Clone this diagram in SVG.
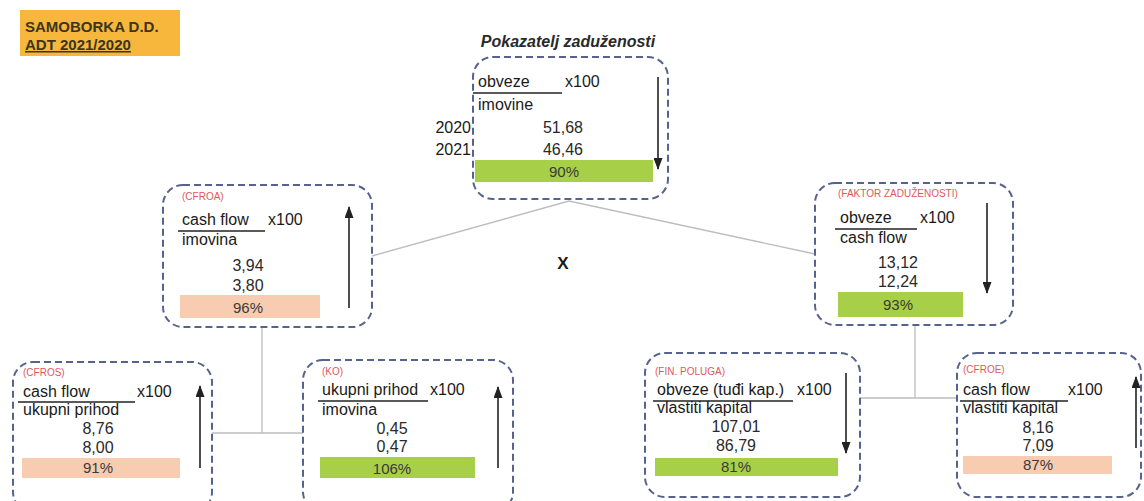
<svg xmlns="http://www.w3.org/2000/svg" width="1144" height="501" viewBox="0 0 1144 501">
<style>
text{font-family:"Liberation Sans",Arial,sans-serif;fill:#1a1a1a}
.box{fill:#fff;stroke:#56638f;stroke-width:2;stroke-dasharray:7 4}
.t{font-size:16px}
.lbl{font-size:10px;fill:#e0585c}
.num{font-size:16px;text-anchor:middle;fill:#2a2a2a}
.pct{font-size:15px;text-anchor:middle;fill:#3a3a3a}
.frac{stroke:#222;stroke-width:1.3}
.grn{fill:#a8cf48}
.org{fill:#f8ccb0}
.arr{stroke:#222;stroke-width:1.6;marker-end:url(#ah)}
.conn{stroke:#bdbdbd;stroke-width:1.3;fill:none}
</style>
<defs>
<marker id="ah" markerWidth="12" markerHeight="9" refX="11" refY="4.5" orient="auto" markerUnits="userSpaceOnUse">
<path d="M0,0 L12,4.5 L0,9 z" fill="#222"/>
</marker>
</defs>
<rect width="1144" height="501" fill="#fff"/>

<g id="header">
<rect x="20" y="10" width="160" height="46" fill="#f6b73c"/>
<text x="25" y="32" style="font-size:15px;font-weight:bold;fill:#3b3520">SAMOBORKA D.D.</text>
<text x="25" y="50" style="font-size:15px;font-weight:bold;fill:#3b3520;text-decoration:underline">ADT 2021/2020</text>
</g>

<g id="connectors">
<polyline class="conn" points="372,256 569,201 815,254"/>
<polyline class="conn" points="212,433 303,433"/>
<line class="conn" x1="262" y1="327" x2="262" y2="433"/>
<polyline class="conn" points="860,398 957,398"/>
<line class="conn" x1="915" y1="325" x2="915" y2="398"/>
</g>

<text x="563" y="269" style="font-size:17px;font-weight:bold;text-anchor:middle">X</text>

<g id="n0">
<text x="568" y="47" style="font-size:16px;font-weight:bold;font-style:italic;text-anchor:middle;fill:#2a2a2a">Pokazatelj zaduženosti</text>
<rect class="box" x="473" y="57" width="195" height="142" rx="20"/>
<text class="t" x="478" y="87">obveze</text>
<text class="t" x="565" y="87">x100</text>
<line class="frac" x1="473" y1="93" x2="562" y2="93"/>
<text class="t" x="478" y="110">imovine</text>
<text class="t" x="471" y="133" text-anchor="end">2020</text>
<text class="t" x="471" y="155" text-anchor="end">2021</text>
<text class="num" x="563" y="133">51,68</text>
<text class="num" x="563" y="155">46,46</text>
<rect class="grn" x="475" y="160" width="178" height="22"/>
<text class="pct" x="564" y="177">90%</text>
<line class="arr" x1="658" y1="77" x2="658" y2="169"/>
</g>

<g id="n1">
<rect class="box" x="163" y="185" width="209" height="142" rx="20"/>
<text class="lbl" x="182" y="200">(CFROA)</text>
<text class="t" x="182" y="225">cash flow</text>
<text class="t" x="268" y="225">x100</text>
<line class="frac" x1="178" y1="231" x2="265" y2="231"/>
<text class="t" x="182" y="245">imovina</text>
<text class="num" x="248" y="271">3,94</text>
<text class="num" x="248" y="291">3,80</text>
<rect class="org" x="180" y="295" width="140" height="23"/>
<text class="pct" x="248" y="313">96%</text>
<line class="arr" x1="349" y1="308" x2="349" y2="207"/>
</g>

<g id="n2">
<rect class="box" x="815" y="183" width="198" height="142" rx="20"/>
<text class="lbl" x="838" y="197">(FAKTOR ZADUŽENOSTI)</text>
<text class="t" x="840" y="223">obveze</text>
<text class="t" x="920" y="223">x100</text>
<line class="frac" x1="835" y1="229" x2="917" y2="229"/>
<text class="t" x="840" y="243">cash flow</text>
<text class="num" x="898" y="268">13,12</text>
<text class="num" x="898" y="287">12,24</text>
<rect class="grn" x="838" y="292" width="125" height="25"/>
<text class="pct" x="898" y="310">93%</text>
<line class="arr" x1="987" y1="203" x2="987" y2="293"/>
</g>

<g id="n3">
<rect class="box" x="13" y="362" width="199" height="150" rx="20"/>
<text class="lbl" x="23" y="376">(CFROS)</text>
<text class="t" x="23" y="397">cash flow</text>
<text class="t" x="137" y="397">x100</text>
<line class="frac" x1="18" y1="402" x2="135" y2="402"/>
<text class="t" x="23" y="415">ukupni prihod</text>
<text class="num" x="98" y="434">8,76</text>
<text class="num" x="98" y="453">8,00</text>
<rect class="org" x="22" y="458" width="158" height="20"/>
<text class="pct" x="98" y="473">91%</text>
<line class="arr" x1="200" y1="468" x2="200" y2="386"/>
</g>

<g id="n4">
<rect class="box" x="303" y="360" width="210" height="152" rx="20"/>
<text class="lbl" x="322" y="375">(KO)</text>
<text class="t" x="322" y="395">ukupni prihod</text>
<text class="t" x="430" y="395">x100</text>
<line class="frac" x1="318" y1="401" x2="428" y2="401"/>
<text class="t" x="322" y="415">imovina</text>
<text class="num" x="392" y="434">0,45</text>
<text class="num" x="392" y="452">0,47</text>
<rect class="grn" x="320" y="457" width="155" height="21"/>
<text class="pct" x="392" y="474">106%</text>
<line class="arr" x1="498" y1="468" x2="498" y2="387"/>
</g>

<g id="n5">
<rect class="box" x="645" y="353" width="215" height="144" rx="20"/>
<text class="lbl" x="655" y="375">(FIN. POLUGA)</text>
<text class="t" x="657" y="395">obveze (tuđi kap.)</text>
<text class="t" x="797" y="395">x100</text>
<line class="frac" x1="653" y1="401" x2="793" y2="401"/>
<text class="t" x="657" y="413">vlastiti kapital</text>
<text class="num" x="736" y="432">107,01</text>
<text class="num" x="736" y="451">86,79</text>
<rect class="grn" x="655" y="458" width="183" height="18"/>
<text class="pct" x="736" y="472">81%</text>
<line class="arr" x1="846" y1="373" x2="846" y2="453"/>
</g>

<g id="n6">
<rect class="box" x="957" y="353" width="184" height="144" rx="20"/>
<text class="lbl" x="963" y="373">(CFROE)</text>
<text class="t" x="963" y="395">cash flow</text>
<text class="t" x="1068" y="395">x100</text>
<line class="frac" x1="960" y1="401" x2="1068" y2="401"/>
<text class="t" x="963" y="413">vlastiti kapital</text>
<text class="num" x="1038" y="433">8,16</text>
<text class="num" x="1038" y="451">7,09</text>
<rect class="org" x="963" y="456" width="149" height="18"/>
<text class="pct" x="1038" y="470">87%</text>
<line class="arr" x1="1136" y1="448" x2="1136" y2="377"/>
</g>
</svg>
